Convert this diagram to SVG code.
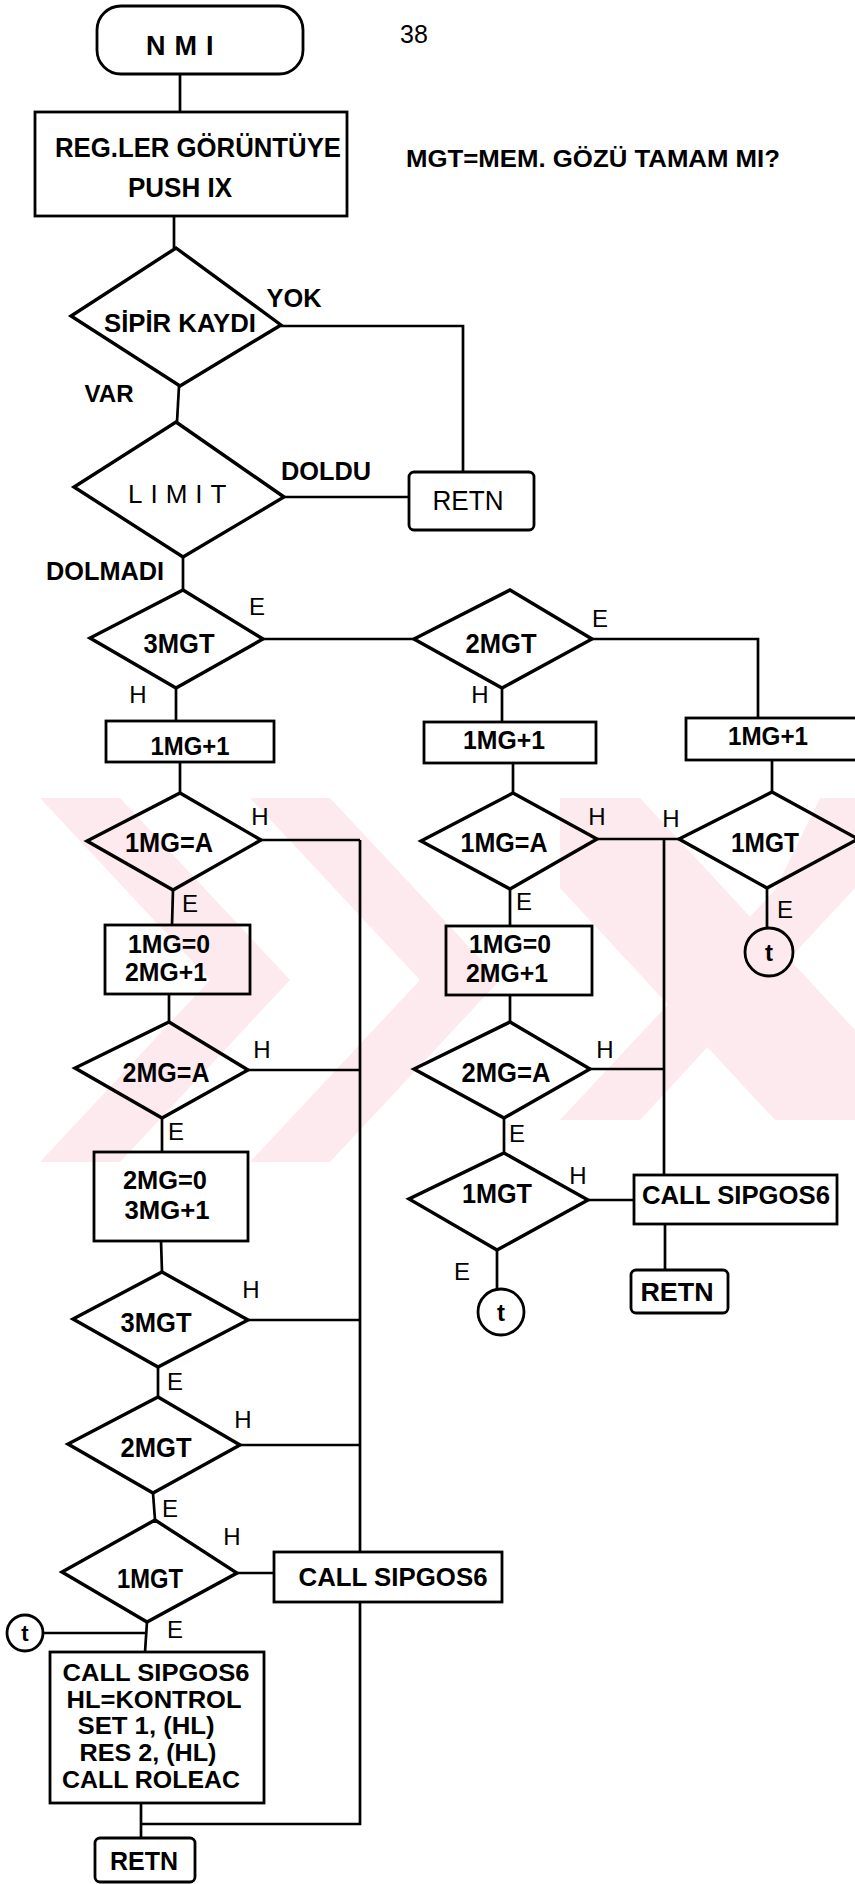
<svg xmlns="http://www.w3.org/2000/svg" width="855" height="1884" viewBox="0 0 855 1884">
<style>
.ln{stroke:#000;stroke-width:2.7;fill:none;stroke-linejoin:miter}
.bx{stroke:#000;stroke-width:2.8;fill:none}
.dm{stroke:#000;stroke-width:3.4;fill:none;stroke-linejoin:miter}
.t{font-family:"Liberation Sans",Arial,sans-serif;font-weight:bold;font-size:26px;fill:#000;text-anchor:middle}
.lb{font-family:"Liberation Sans",Arial,sans-serif;font-weight:normal;font-size:24px;fill:#000;text-anchor:middle}
.wm{fill:#fdeaee}
</style>
<rect x="0" y="0" width="855" height="1884" fill="#fff"/>
<g id="watermark">
<polygon class="wm" points="40,798 120,798 290,980 120,1162 40,1162 210,980"/>
<polygon class="wm" points="250,798 330,798 500,980 330,1162 250,1162 420,980"/>
<polygon class="wm" points="560,798 640,798 855,1030 855,1120 775,1120 560,888"/>
<polygon class="wm" points="855,798 855,888 640,1120 560,1120 775,890 820,798"/>
</g>
<g id="connectors">
<line class="ln" x1="180" y1="74" x2="180" y2="112"/>
<line class="ln" x1="174" y1="216" x2="174" y2="248"/>
<polyline class="ln" points="281,326 463,326 463,472"/>
<line class="ln" x1="179" y1="386" x2="177" y2="422"/>
<line class="ln" x1="284" y1="497" x2="409" y2="497"/>
<line class="ln" x1="183" y1="557" x2="183" y2="590"/>
<line class="ln" x1="263" y1="639" x2="414" y2="639"/>
<polyline class="ln" points="592,639 758,639 758,718"/>
<line class="ln" x1="176" y1="688" x2="176" y2="721"/>
<line class="ln" x1="502" y1="688" x2="502" y2="722"/>
<line class="ln" x1="180" y1="762" x2="180" y2="793"/>
<line class="ln" x1="513" y1="763" x2="513" y2="793"/>
<line class="ln" x1="772" y1="760" x2="772" y2="792"/>
<line class="ln" x1="261" y1="840" x2="360" y2="840"/>
<line class="ln" x1="360" y1="840" x2="360" y2="1552"/>
<polyline class="ln" points="360,1602 360,1824 141,1824"/>
<line class="ln" x1="597" y1="839" x2="679" y2="839"/>
<line class="ln" x1="664" y1="839" x2="664" y2="1175"/>
<line class="ln" x1="173" y1="890" x2="172" y2="925"/>
<line class="ln" x1="510" y1="889" x2="510" y2="926"/>
<line class="ln" x1="767" y1="888" x2="767" y2="928"/>
<line class="ln" x1="169" y1="994" x2="169" y2="1022"/>
<line class="ln" x1="510" y1="995" x2="510" y2="1022"/>
<line class="ln" x1="248" y1="1070" x2="360" y2="1070"/>
<line class="ln" x1="590" y1="1069" x2="664" y2="1069"/>
<line class="ln" x1="162" y1="1118" x2="162" y2="1152"/>
<line class="ln" x1="504" y1="1118" x2="504" y2="1153"/>
<line class="ln" x1="588" y1="1200" x2="634" y2="1200"/>
<line class="ln" x1="665" y1="1224" x2="665" y2="1270"/>
<line class="ln" x1="497" y1="1250" x2="497" y2="1289"/>
<line class="ln" x1="161" y1="1241" x2="162" y2="1272"/>
<line class="ln" x1="248" y1="1320" x2="360" y2="1320"/>
<line class="ln" x1="158" y1="1367" x2="158" y2="1397"/>
<line class="ln" x1="240" y1="1445" x2="360" y2="1445"/>
<line class="ln" x1="153" y1="1493" x2="155" y2="1520"/>
<line class="ln" x1="237" y1="1573" x2="274" y2="1573"/>
<line class="ln" x1="147" y1="1622" x2="145" y2="1652"/>
<line class="ln" x1="43" y1="1633" x2="146" y2="1633"/>
<line class="ln" x1="141" y1="1803" x2="141" y2="1838"/>
</g>
<g id="labels">
<text class="t" x="414" y="43" style="font-weight:normal;font-size:25px">38</text>
<text class="t" x="593" y="167" textLength="374" lengthAdjust="spacingAndGlyphs" style="font-size:23px">MGT=MEM. GÖZÜ TAMAM MI?</text>
<text class="t" x="294" y="307" textLength="55" lengthAdjust="spacingAndGlyphs">YOK</text>
<text class="t" x="109" y="402" textLength="49" lengthAdjust="spacingAndGlyphs" style="font-size:24px">VAR</text>
<text class="t" x="326" y="480" textLength="90" lengthAdjust="spacingAndGlyphs">DOLDU</text>
<text class="t" x="105" y="580" textLength="118" lengthAdjust="spacingAndGlyphs">DOLMADI</text>
<text class="lb" x="257" y="615">E</text>
<text class="lb" x="600" y="627">E</text>
<text class="lb" x="138" y="703">H</text>
<text class="lb" x="480" y="703">H</text>
<text class="lb" x="260" y="825">H</text>
<text class="lb" x="597" y="825">H</text>
<text class="lb" x="671" y="827">H</text>
<text class="lb" x="190" y="912">E</text>
<text class="lb" x="524" y="910">E</text>
<text class="lb" x="785" y="918">E</text>
<text class="lb" x="262" y="1058">H</text>
<text class="lb" x="605" y="1058">H</text>
<text class="lb" x="176" y="1140">E</text>
<text class="lb" x="517" y="1142">E</text>
<text class="lb" x="578" y="1184">H</text>
<text class="lb" x="462" y="1280">E</text>
<text class="lb" x="251" y="1298">H</text>
<text class="lb" x="175" y="1390">E</text>
<text class="lb" x="243" y="1428">H</text>
<text class="lb" x="170" y="1517">E</text>
<text class="lb" x="232" y="1545">H</text>
<text class="lb" x="175" y="1638">E</text>
</g>
<g id="n_nmi">
<rect class="bx" x="97" y="6" width="206" height="68" rx="24"/>
<text class="t" x="146" y="55" style="text-anchor:start;letter-spacing:9px;font-size:27px">NMI</text>
</g>
<g id="n_reg">
<rect class="bx" x="35" y="112" width="312" height="104"/>
<text class="t" x="198" y="157" textLength="286" lengthAdjust="spacingAndGlyphs" style="font-size:27px">REG.LER GÖRÜNTÜYE</text>
<text class="t" x="180" y="197" textLength="104" lengthAdjust="spacingAndGlyphs" style="font-size:27px">PUSH IX</text>
</g>
<g id="n_sipir">
<polygon class="dm" points="176,248 281,325 180,386 71,316"/>
<text class="t" x="180" y="332" textLength="152" lengthAdjust="spacingAndGlyphs" style="font-size:25px">SİPİR KAYDI</text>
</g>
<g id="n_limit">
<polygon class="dm" points="176,422 284,497 183,557 74,487"/>
<text class="t" x="128" y="503" style="text-anchor:start;font-weight:normal;letter-spacing:8px;font-size:26px">LIMIT</text>
</g>
<g id="n_retn1">
<rect class="bx" x="409" y="472" width="125" height="58" rx="5"/>
<text class="t" x="468" y="510" textLength="71" lengthAdjust="spacingAndGlyphs" style="font-weight:normal;font-size:28px">RETN</text>
</g>
<g id="n_3mgt_a">
<polygon class="dm" points="183,590 263,639 176,688 90,638"/>
<text class="t" x="179" y="653" textLength="71" lengthAdjust="spacingAndGlyphs" style="font-size:28px">3MGT</text>
</g>
<g id="n_2mgt_a">
<polygon class="dm" points="510,590 592,639 502,688 414,639"/>
<text class="t" x="501" y="653" textLength="71" lengthAdjust="spacingAndGlyphs" style="font-size:28px">2MGT</text>
</g>
<g id="n_1mg1_l">
<rect class="bx" x="106" y="721" width="168" height="41"/>
<text class="t" x="190" y="755" textLength="79" lengthAdjust="spacingAndGlyphs">1MG+1</text>
</g>
<g id="n_1mg1_m">
<rect class="bx" x="424" y="722" width="172" height="41"/>
<text class="t" x="504" y="749" textLength="82" lengthAdjust="spacingAndGlyphs">1MG+1</text>
</g>
<g id="n_1mg1_r">
<rect class="bx" x="686" y="718" width="190" height="42"/>
<text class="t" x="768" y="745" textLength="80" lengthAdjust="spacingAndGlyphs">1MG+1</text>
</g>
<g id="n_1mga_l">
<polygon class="dm" points="180,793 261,840 173,890 87,841"/>
<text class="t" x="169" y="852" textLength="88" lengthAdjust="spacingAndGlyphs" style="font-size:27px">1MG=A</text>
</g>
<g id="n_1mga_m">
<polygon class="dm" points="513,793 597,839 510,889 421,841"/>
<text class="t" x="504" y="852" textLength="87" lengthAdjust="spacingAndGlyphs" style="font-size:27px">1MG=A</text>
</g>
<g id="n_1mgt_r">
<polygon class="dm" points="772,792 858,839 767,888 679,839"/>
<text class="t" x="765" y="852" textLength="68" lengthAdjust="spacingAndGlyphs" style="font-size:27px">1MGT</text>
</g>
<g id="n_t_r">
<circle class="bx" cx="769" cy="952" r="24"/>
<text class="t" x="769" y="961" style="font-size:24px">t</text>
</g>
<g id="n_box_l1">
<rect class="bx" x="105" y="925" width="145" height="69"/>
<text class="t" x="169" y="953" textLength="82" lengthAdjust="spacingAndGlyphs">1MG=0</text>
<text class="t" x="166" y="981" textLength="82" lengthAdjust="spacingAndGlyphs">2MG+1</text>
</g>
<g id="n_box_m1">
<rect class="bx" x="446" y="926" width="146" height="69"/>
<text class="t" x="510" y="953" textLength="82" lengthAdjust="spacingAndGlyphs">1MG=0</text>
<text class="t" x="507" y="982" textLength="82" lengthAdjust="spacingAndGlyphs">2MG+1</text>
</g>
<g id="n_2mga_l">
<polygon class="dm" points="169,1022 248,1070 162,1118 75,1068"/>
<text class="t" x="166" y="1082" textLength="87" lengthAdjust="spacingAndGlyphs" style="font-size:27px">2MG=A</text>
</g>
<g id="n_2mga_m">
<polygon class="dm" points="510,1022 590,1069 504,1118 414,1069"/>
<text class="t" x="506" y="1082" textLength="89" lengthAdjust="spacingAndGlyphs" style="font-size:27px">2MG=A</text>
</g>
<g id="n_1mgt_m">
<polygon class="dm" points="504,1153 588,1200 497,1250 409,1199"/>
<text class="t" x="497" y="1203" textLength="70" lengthAdjust="spacingAndGlyphs" style="font-size:27px">1MGT</text>
</g>
<g id="n_call_m">
<rect class="bx" x="634" y="1175" width="203" height="49"/>
<text class="t" x="736" y="1204" textLength="188" lengthAdjust="spacingAndGlyphs">CALL SIPGOS6</text>
</g>
<g id="n_retn_m">
<rect class="bx" x="631" y="1270" width="97" height="43" rx="5"/>
<text class="t" x="677" y="1301" textLength="73" lengthAdjust="spacingAndGlyphs">RETN</text>
</g>
<g id="n_t_m">
<circle class="bx" cx="501" cy="1312" r="23"/>
<text class="t" x="501" y="1321" style="font-size:24px">t</text>
</g>
<g id="n_box_l2">
<rect class="bx" x="94" y="1152" width="154" height="89"/>
<text class="t" x="165" y="1189" textLength="84" lengthAdjust="spacingAndGlyphs">2MG=0</text>
<text class="t" x="167" y="1219" textLength="85" lengthAdjust="spacingAndGlyphs">3MG+1</text>
</g>
<g id="n_3mgt_l">
<polygon class="dm" points="162,1272 248,1320 158,1367 73,1319"/>
<text class="t" x="156" y="1332" textLength="71" lengthAdjust="spacingAndGlyphs" style="font-size:27px">3MGT</text>
</g>
<g id="n_2mgt_l">
<polygon class="dm" points="158,1397 240,1445 153,1493 68,1444"/>
<text class="t" x="156" y="1457" textLength="71" lengthAdjust="spacingAndGlyphs" style="font-size:27px">2MGT</text>
</g>
<g id="n_1mgt_l">
<polygon class="dm" points="155,1520 237,1573 147,1622 62,1572"/>
<text class="t" x="150" y="1588" textLength="66" lengthAdjust="spacingAndGlyphs" style="font-size:27px">1MGT</text>
</g>
<g id="n_call_l">
<rect class="bx" x="274" y="1552" width="228" height="50"/>
<text class="t" x="393" y="1586" textLength="189" lengthAdjust="spacingAndGlyphs">CALL SIPGOS6</text>
</g>
<g id="n_t_l">
<circle class="bx" cx="25" cy="1633" r="18"/>
<text class="t" x="25" y="1641" style="font-size:22px">t</text>
</g>
<g id="n_big">
<rect class="bx" x="50" y="1652" width="214" height="151"/>
<text class="t" x="156" y="1681" textLength="187" lengthAdjust="spacingAndGlyphs" style="font-size:23px">CALL SIPGOS6</text>
<text class="t" x="154" y="1708" textLength="175" lengthAdjust="spacingAndGlyphs" style="font-size:23px">HL=KONTROL</text>
<text class="t" x="146" y="1734" textLength="137" lengthAdjust="spacingAndGlyphs" style="font-size:23px">SET 1, (HL)</text>
<text class="t" x="148" y="1761" textLength="137" lengthAdjust="spacingAndGlyphs" style="font-size:23px">RES 2, (HL)</text>
<text class="t" x="151" y="1788" textLength="178" lengthAdjust="spacingAndGlyphs" style="font-size:23px">CALL ROLEAC</text>
</g>
<g id="n_retn_l">
<rect class="bx" x="95" y="1838" width="100" height="44" rx="5"/>
<text class="t" x="144" y="1870" textLength="68" lengthAdjust="spacingAndGlyphs">RETN</text>
</g>
</svg>
